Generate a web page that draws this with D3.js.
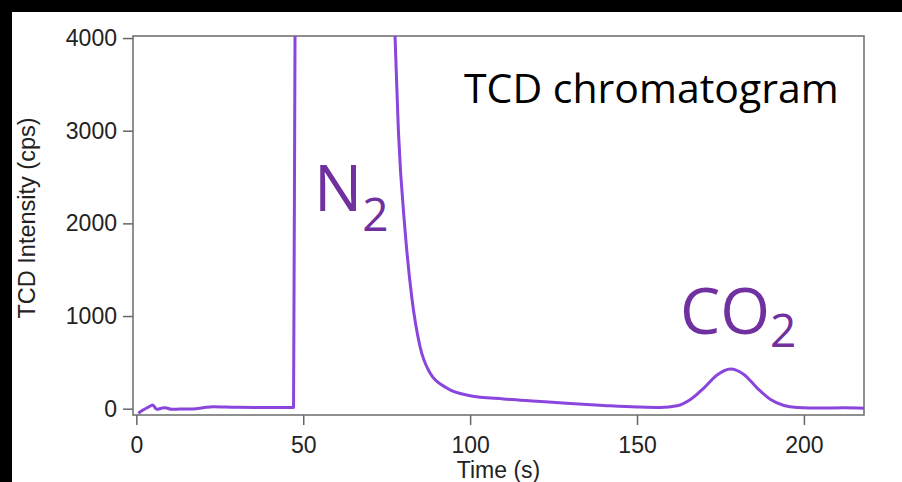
<!DOCTYPE html>
<html>
<head>
<meta charset="utf-8">
<script src="https://cdn.jsdelivr.net/npm/d3@7"></script>
<style>
  body { margin: 0; background: #000; }
  svg { display: block; }
  .tick text { font-family: "Liberation Sans", Arial, sans-serif; font-size: 23px; fill: #222; }
</style>
</head>
<body>
<svg id="canvas" width="902" height="482"></svg>
<script>
// time (s) and TCD signal (cps)
var times = [0.6, 2, 3.5, 4.9, 6.1, 7.5, 8.6, 10.6, 13, 17, 20, 23, 30, 40, 47.1,
  47.6, 50, 60, 70, 76, 77.5, 78.5, 80.5, 82.5, 85, 88, 93, 100, 110, 120, 130,
  140, 150, 157, 162, 166, 170, 174, 178, 182, 186, 190, 194, 198, 205, 212, 218];
var intensity = [-50, -15, 15, 40, -6, 5, 11, -6, -4, -3, 10, 22, 15, 13, 12,
  4600, 8000, 12000, 9000, 5200, 4020, 3006, 1927, 1208, 669, 385, 223, 140, 105, 80, 55,
  35, 18, 12, 31, 99, 223, 364, 428, 370, 223, 99, 35, 14, 8, 9, 5];

var xTicks = [0, 50, 100, 150, 200];
var yTicks = [0, 1000, 2000, 3000, 4000];

var svg = d3.select("#canvas"),
  width = +svg.attr("width"),
  height = +svg.attr("height");

var margin = {top: 36, right: 38, bottom: 67, left: 133};
var plotW = width - margin.left - margin.right,
  plotH = height - margin.top - margin.bottom;

//white slide area behind the chart
svg.append("rect")
  .attr("x", 12).attr("y", 12)
  .attr("width", width - 12).attr("height", height - 12)
  .attr("fill", "#fff");

var x = d3.scaleLinear().domain([-1, 218]).range([margin.left, margin.left + plotW]);
var y = d3.scaleLinear().domain([-68, 4022]).range([margin.top + plotH, margin.top]);

svg.append("defs").append("clipPath").attr("id", "plotClip")
  .append("rect")
  .attr("x", margin.left).attr("y", margin.top)
  .attr("width", plotW).attr("height", plotH);

//axes
var xAxis = svg.append("g")
  .attr("transform", "translate(0," + (margin.top + plotH) + ")")
  .call(d3.axisBottom(x).tickValues(xTicks).tickSize(10).tickPadding(12));
var yAxis = svg.append("g")
  .attr("transform", "translate(" + margin.left + ",0)")
  .call(d3.axisLeft(y).tickValues(yTicks).tickSize(10).tickPadding(6).tickFormat(d3.format("d")));
[xAxis, yAxis].forEach(function(a) {
  a.select(".domain").remove();
  a.selectAll(".tick line").attr("stroke", "#666").attr("stroke-width", 1.5);
});

//frame
svg.append("rect")
  .attr("x", margin.left).attr("y", margin.top)
  .attr("width", plotW).attr("height", plotH)
  .attr("fill", "none")
  .attr("stroke", "#6b6b6b")
  .attr("stroke-width", 1.5);

//trace
var pts = times.map(function(t, i) { return [t, intensity[i]]; });
var line = d3.line()
  .x(function(d) { return x(d[0]); })
  .y(function(d) { return y(d[1]); })
  .curve(d3.curveMonotoneX);

svg.append("path")
  .datum(pts)
  .attr("clip-path", "url(#plotClip)")
  .attr("d", line)
  .attr("fill", "none")
  .attr("stroke", "#8a45dc")
  .attr("stroke-width", 3)
  .attr("stroke-linejoin", "round");

//axis titles
svg.append("text")
  .attr("x", margin.left + plotW / 2).attr("y", 478)
  .attr("text-anchor", "middle")
  .style("font-family", "'Liberation Sans', Arial, sans-serif")
  .style("font-size", "23px")
  .attr("fill", "#222")
  .text("Time (s)");

svg.append("text")
  .attr("transform", "translate(35,218) rotate(-90)")
  .attr("text-anchor", "middle")
  .style("font-family", "'Liberation Sans', Arial, sans-serif")
  .style("font-size", "23.5px")
  .attr("fill", "#222")
  .text("TCD Intensity (cps)");

//annotations
svg.append("text")
  .attr("x", 464).attr("y", 103)
  .style("font-family", "'Open Sans', sans-serif")
  .style("font-size", "41px")
  .attr("fill", "#000")
  .text("TCD chromatogram");

function chem(xPos, yPos, main, sub, drop) {
  var t = svg.append("text")
    .attr("x", xPos).attr("y", yPos)
    .style("font-family", "'Open Sans', sans-serif")
    .style("font-size", "64px")
    .attr("fill", "#7030a0");
  t.append("tspan").text(main);
  t.append("tspan").attr("dy", drop).style("font-size", "46px").text(sub);
}
chem(314, 211, "N", "2", 20);
chem(680, 334, "CO", "2", 13);
</script>
</body>
</html>
